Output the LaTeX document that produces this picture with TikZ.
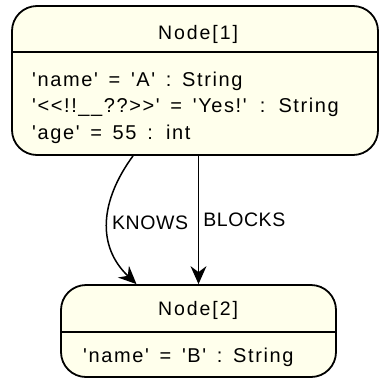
\documentclass[tikz,border=0pt]{standalone}
\usepackage{fontspec}
\newfontfamily\titlefont[LetterSpace=10]{Liberation Sans}
\newfontfamily\propfont[LetterSpace=8,WordSpace=1.5]{Liberation Sans}
\newfontfamily\relfont[LetterSpace=3]{Liberation Sans}
\usetikzlibrary{arrows.meta,positioning}
\definecolor{nodefill}{RGB}{255,255,236}

\begin{document}
\begin{tikzpicture}[
    x=1pt, y=-1pt,
    entity/.style={draw, line width=1.8pt, rounded corners=25pt, fill=nodefill, inner sep=0pt},
    title/.style={anchor=base, inner sep=0pt, font=\titlefont\fontsize{19.5}{24}\selectfont},
    prop/.style={anchor=base west, inner sep=0pt, font=\propfont\fontsize{20}{24}\selectfont},
    sep/.style={line width=1.8pt},
    rel/.style={-{Stealth[length=18pt, width=16pt, inset=6pt]}, line width=1.5pt},
    rellabel/.style={right, inner sep=4pt, font=\relfont\fontsize{19.5}{24}\selectfont},
  ]
  \useasboundingbox (0,0) rectangle (379,378);

  % first node
  \node[entity, minimum width=366pt, minimum height=149pt] (node1) at (195,80.5) {};
  \coordinate (cut1) at (0,52);
  \draw[sep] (node1.west |- cut1) -- (node1.east |- cut1);
  \node[title] (node1title) at (198,39) {Node[1]};
  \node[prop] (node1name) at (32,86) {'name' = 'A' : String};
  \node[prop] (node1yes)  at (32,112.5) {'<<!!\_\_??>>' = 'Yes!' : String};
  \node[prop] (node1age)  at (32,139) {'age' = 55 : int};

  % second node
  \node[entity, minimum width=275pt, minimum height=92pt] (node2) at (198.5,331) {};
  \coordinate (cut2) at (0,332);
  \draw[sep] (node2.west |- cut2) -- (node2.east |- cut2);
  \node[title] (node2title) at (198,315) {Node[2]};
  \node[prop] (node2name) at (83,362) {'name' = 'B' : String};

  % relationships
  \draw[rel] ([xshift=-62pt]node1.south) .. controls +(-33,45) and +(-40,-38) .. node[rellabel] (knows) {KNOWS} ([xshift=-62pt]node2.north);
  \draw[rel] (node1.south -| node2.north) -- node[rellabel] (blocks) {BLOCKS} (node2.north);
\end{tikzpicture}
\end{document}
